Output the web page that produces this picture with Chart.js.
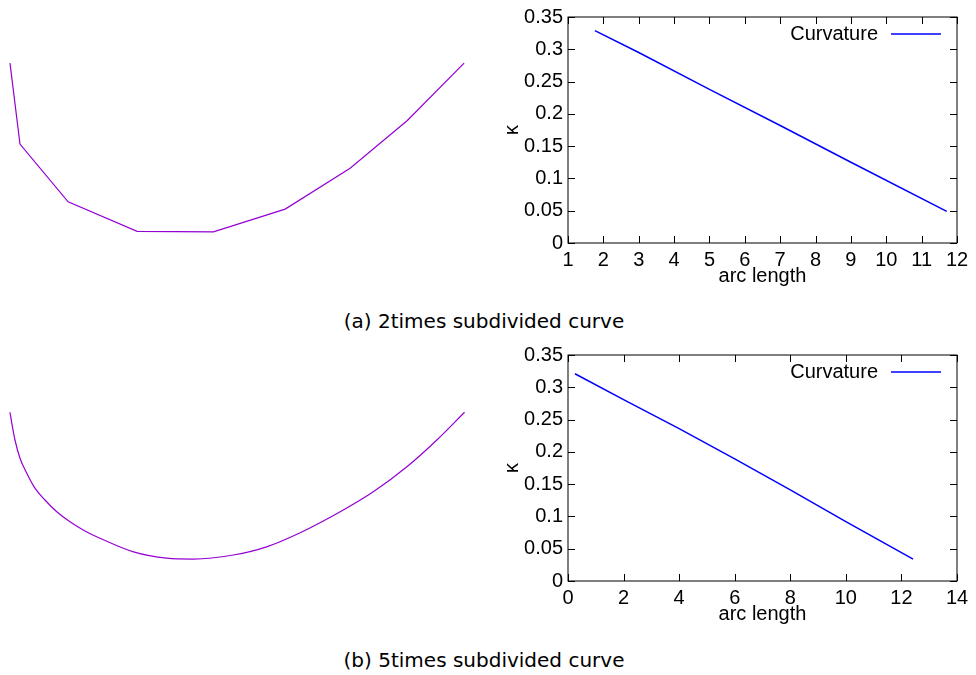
<!DOCTYPE html>
<html>
<head>
<meta charset="utf-8">
<script src="https://cdn.jsdelivr.net/npm/chart.js@4.4.1/dist/chart.umd.min.js"></script>
<style>
  body { margin: 0; background: #fff; width: 976px; height: 675px; position: relative; overflow: hidden; }
  .box { position: absolute; }
  .caption { position: absolute; left: 0; width: 968px; text-align: center;
             font-family: "DejaVu Sans", sans-serif; font-size: 20px; color: #000; }
</style>
</head>
<body>
<div class="box" style="left:0;top:50px;width:480px;height:200px"><canvas id="curveA"></canvas></div>
<div class="box" style="left:490px;top:0;width:486px;height:300px"><canvas id="kappaA"></canvas></div>
<div class="caption" style="top:309px">(a) 2times subdivided curve</div>
<div class="box" style="left:0;top:390px;width:480px;height:190px"><canvas id="curveB"></canvas></div>
<div class="box" style="left:490px;top:338px;width:486px;height:300px"><canvas id="kappaB"></canvas></div>
<div class="caption" style="top:648px">(b) 5times subdivided curve</div>

<script>
// kurwa po 2 podziałach (wierzchołki łamanej)
const curveAX = [0, 0.22, 1.28, 2.80, 4.48, 6.06, 7.49, 8.75, 10.0];
const curveAY = [3.71, 1.93, 0.66, 0.01, 0.0, 0.50, 1.40, 2.45, 3.71];

// kurwa po 5 podziałach
const curveBX = [0, 0.04, 0.11, 0.22, 0.37, 0.55, 0.77, 1.03, 1.32, 1.65, 1.98, 2.72, 3.45, 4.04,
                 4.92, 5.65, 6.39, 7.34, 8.00, 8.74, 9.40, 10.01];
const curveBY = [3.23, 2.99, 2.62, 2.22, 1.89, 1.56, 1.30, 1.04, 0.82, 0.62, 0.46, 0.16, 0.02, 0.0,
                 0.09, 0.27, 0.58, 1.08, 1.48, 2.03, 2.62, 3.23];

// krzywizna vs długość łuku
const arcA = [1.76, 3.0, 5.0, 7.0, 9.0, 11.71];
const kappaA = [0.329, 0.295, 0.238, 0.182, 0.125, 0.049];
const arcB = [0.25, 2.0, 4.0, 6.0, 8.0, 10.0, 12.42];
const kappaB = [0.321, 0.281, 0.236, 0.189, 0.141, 0.092, 0.034];

const yTicks = [0, 0.05, 0.1, 0.15, 0.2, 0.25, 0.3, 0.35];
const xTicksA = [1, 2, 3, 4, 5, 6, 7, 8, 9, 10, 11, 12];
const xTicksB = [0, 2, 4, 6, 8, 10, 12, 14];

const purple = '#9400d3';
const blue = '#0000ff';
const tickFont = { family: 'Liberation Sans, Arial, sans-serif', size: 20 };

function pts(xs, ys) {
  return xs.map((x, i) => ({ x: x, y: ys[i] }));
}

function curveChart(id, xs, ys, yMin, yMax, smooth) {
  new Chart(document.getElementById(id), {
    type: 'scatter',
    data: { datasets: [{ data: pts(xs, ys), showLine: true, borderColor: purple,
      borderWidth: 1.2, pointRadius: 0,
      cubicInterpolationMode: smooth ? 'monotone' : 'default', tension: 0 }] },
    options: {
      responsive: true, maintainAspectRatio: false, animation: false,
      layout: { padding: 0 },
      plugins: { legend: { display: false }, tooltip: { enabled: false } },
      scales: {
        x: { type: 'linear', display: false, min: -0.22, max: 10.35 },
        y: { type: 'linear', display: false, min: yMin, max: yMax }
      }
    }
  });
}

// ramka, ticki do środka i legenda w stylu gnuplota
const gnuplotFrame = {
  id: 'gnuplotFrame',
  afterDraw(chart) {
    const ctx = chart.ctx;
    const a = chart.chartArea;
    const len = 7;
    ctx.save();
    ctx.strokeStyle = '#000';
    ctx.lineWidth = 1;
    ctx.strokeRect(a.left, a.top, a.right - a.left, a.bottom - a.top);
    ctx.beginPath();
    chart.scales.x.ticks.forEach(t => {
      const px = Math.round(chart.scales.x.getPixelForValue(t.value)) + 0.5;
      ctx.moveTo(px, a.bottom); ctx.lineTo(px, a.bottom - len);
      ctx.moveTo(px, a.top); ctx.lineTo(px, a.top + len);
    });
    chart.scales.y.ticks.forEach(t => {
      const py = Math.round(chart.scales.y.getPixelForValue(t.value)) + 0.5;
      ctx.moveTo(a.left, py); ctx.lineTo(a.left + len, py);
      ctx.moveTo(a.right, py); ctx.lineTo(a.right - len, py);
    });
    ctx.stroke();

    const ds = chart.data.datasets[0];
    const ly = a.top + 17;
    ctx.font = '20px Liberation Sans, Arial, sans-serif';
    ctx.fillStyle = '#000';
    ctx.textAlign = 'right';
    ctx.textBaseline = 'middle';
    ctx.fillText(ds.label, a.right - 79, ly);
    ctx.strokeStyle = ds.borderColor;
    ctx.lineWidth = 1.5;
    ctx.beginPath();
    ctx.moveTo(a.right - 66, ly); ctx.lineTo(a.right - 16, ly);
    ctx.stroke();
    ctx.restore();
  }
};

function kappaChart(id, xs, ys, xMin, xMax, xTicks) {
  new Chart(document.getElementById(id), {
    type: 'scatter',
    data: { datasets: [{ label: 'Curvature', data: pts(xs, ys), showLine: true,
      borderColor: blue, borderWidth: 1.5, pointRadius: 0, tension: 0 }] },
    options: {
      responsive: true, maintainAspectRatio: false, animation: false,
      layout: { padding: { top: 14, right: 19, left: 0, bottom: 0 } },
      plugins: { legend: { display: false }, tooltip: { enabled: false } },
      scales: {
        x: {
          type: 'linear', min: xMin, max: xMax,
          grid: { display: false, drawTicks: false }, border: { display: false },
          afterBuildTicks: s => { s.ticks = xTicks.map(v => ({ value: v })); },
          afterFit: s => { s.height = 57; },
          ticks: { color: '#000', font: tickFont, padding: 5, maxRotation: 0, autoSkip: false },
          title: { display: true, text: 'arc length', color: '#000', font: tickFont, padding: { top: 0, bottom: 12 } }
        },
        y: {
          type: 'linear', min: 0, max: 0.35,
          grid: { display: false, drawTicks: false }, border: { display: false },
          afterBuildTicks: s => { s.ticks = yTicks.map(v => ({ value: v })); },
          afterFit: s => { s.width = 78; },
          ticks: { color: '#000', font: tickFont, padding: 5,
            callback: v => String(Number(v.toFixed(2))) },
          title: { display: true, text: 'κ', color: '#000', font: tickFont, padding: { top: 10, bottom: 0 } }
        }
      }
    },
    plugins: [gnuplotFrame]
  });
}

curveChart('curveA', curveAX, curveAY, -0.40, 4.0, false);
curveChart('curveB', curveBX, curveBY, -0.46, 3.72, true);
kappaChart('kappaA', arcA, kappaA, 1, 12, xTicksA);
kappaChart('kappaB', arcB, kappaB, 0, 14, xTicksB);
</script>
</body>
</html>
